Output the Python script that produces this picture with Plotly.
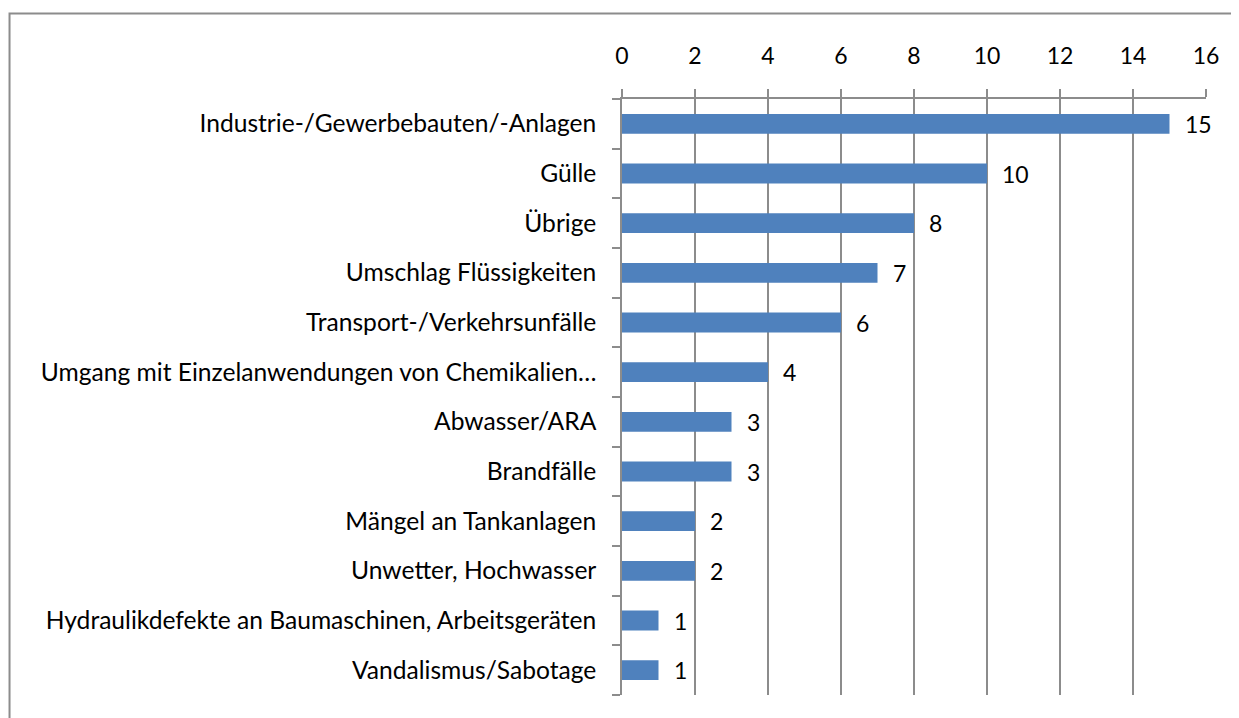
import plotly.graph_objects as go

categories = [
    "Industrie-/Gewerbebauten/-Anlagen",
    "Gülle",
    "Übrige",
    "Umschlag Flüssigkeiten",
    "Transport-/Verkehrsunfälle",
    "Umgang mit Einzelanwendungen von Chemikalien…",
    "Abwasser/ARA",
    "Brandfälle",
    "Mängel an Tankanlagen",
    "Unwetter, Hochwasser",
    "Hydraulikdefekte an Baumaschinen, Arbeitsgeräten",
    "Vandalismus/Sabotage",
]
values = [15, 10, 8, 7, 6, 4, 3, 3, 2, 2, 1, 1]
x_ticks = [0, 2, 4, 6, 8, 10, 12, 14, 16]

# page has an 8px body margin; compensate so the figure fills the window
OFF = 8
W, H = 1239 - OFF, 718 - OFF
L, R, T, B = 622 - OFF, 1206.5 - OFF, 99 - OFF, 695 - OFF
GRAY = "#8C8C8C"
FONT = "Lato"

fig = go.Figure()
fig.add_trace(go.Bar(
    x=values, y=categories, orientation="h",
    marker=dict(color="#4F81BD", line=dict(width=0)),
    hoverinfo="skip",
))

for v, c in zip(values, categories):
    fig.add_annotation(x=v, y=c, text=str(v), showarrow=False,
                       xanchor="left", xshift=13,
                       font=dict(family=FONT, size=23, color="black"))

pw, ph = R - L, B - T
def px_x(p):
    return (p - OFF - L) / pw
def px_y(p):
    return (B - (p - OFF)) / ph

fig.add_shape(type="rect", xref="paper", yref="paper",
              x0=px_x(9), x1=px_x(1250), y0=px_y(13.5), y1=px_y(740),
              line=dict(color=GRAY, width=2), fillcolor="rgba(0,0,0,0)", layer="below")

fig.update_layout(
    width=W, height=H,
    margin=dict(l=L, r=W - R, t=T, b=H - B, pad=0),
    paper_bgcolor="white", plot_bgcolor="white",
    bargap=0.6, showlegend=False,
    font=dict(family=FONT, size=20, color="black"),
    xaxis=dict(
        side="top", range=[0, 16], tickvals=x_ticks, ticktext=[str(t) for t in x_ticks],
        tickfont=dict(family=FONT, size=23, color="black"),
        showgrid=True, gridcolor=GRAY, gridwidth=1.5,
        showline=True, linecolor=GRAY, linewidth=1.5,
        ticks="outside", ticklen=8, tickcolor=GRAY, tickwidth=1.5,
        ticklabelstandoff=16, zeroline=False, fixedrange=True,
    ),
    yaxis=dict(
        categoryorder="array", categoryarray=categories[::-1],
        tickfont=dict(family=FONT, size=24.6, color="black"),
        showline=True, linecolor=GRAY, linewidth=1.5,
        ticks="outside", ticklen=8, tickcolor=GRAY, tickwidth=1.5,
        tickson="boundaries", ticklabelstandoff=19,
        showgrid=False, zeroline=False, fixedrange=True,
    ),
)

fig.write_html("out.html")
